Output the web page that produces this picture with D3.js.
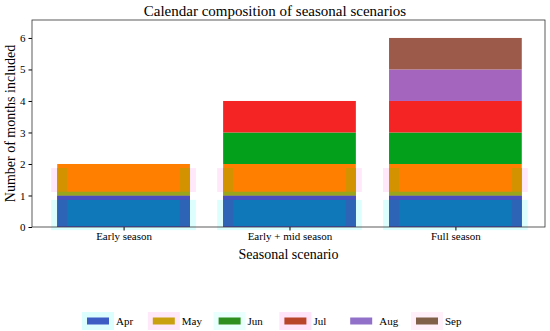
<!DOCTYPE html>
<html>
<head>
<meta charset="utf-8">
<script src="https://cdn.jsdelivr.net/npm/d3@7"></script>
<style>
  body { margin: 0; background: #fff; }
  text { font-family: "Liberation Serif", "DejaVu Serif", serif; fill: #000; }
</style>
</head>
<body>
<script>
"use strict";

// data
const scenarios = ["Early season", "Early + mid season", "Full season"];
const months = ["Apr", "May", "Jun", "Jul", "Aug", "Sep"];
// 1 = month included in the scenario
const apr = [1, 1, 1];
const may = [1, 1, 1];
const jun = [0, 1, 1];
const jul = [0, 1, 1];
const aug = [0, 0, 1];
const sep = [0, 0, 1];
const yTicks = [0, 1, 2, 3, 4, 5, 6];

const barColors = ["#0f78b9", "#ff8000", "#03a01c", "#f42424", "#a465bf", "#9c5a4b"];
const legendColors = ["#3d5cc4", "#c9a010", "#2e8e1e", "#b8442a", "#9070c8", "#806048"];

let w = 550, h = 331;
let margin = {left: 32, right: 5, top: 20, bottom: 104};

let svg = d3.select("body").append("svg")
    .attr("width", w)
    .attr("height", h);

let x = d3.scaleLinear().domain([-0.552, 2.54]).range([margin.left, w - margin.right]);
let y = d3.scaleLinear().domain([0, 6.57]).range([h - margin.bottom, margin.top]);
let barW = 0.8;

// stack the months
let table = scenarios.map(function (s, i) {
    return {scenario: s, i: i, Apr: apr[i], May: may[i], Jun: jun[i], Jul: jul[i], Aug: aug[i], Sep: sep[i]};
});
let series = d3.stack().keys(months)(table);

// soft halos behind the first two segments
let halo = svg.append("g");
table.forEach(function (d) {
    let x0 = x(d.i - barW / 2) - 6, x1 = x(d.i + barW / 2) + 6;
    halo.append("rect").attr("x", x0).attr("width", x1 - x0)
        .attr("y", y(0.86)).attr("height", y(-0.1) - y(0.86))
        .attr("fill", "#dcfffd");
    halo.append("rect").attr("x", x0).attr("width", x1 - x0)
        .attr("y", y(1.87)).attr("height", y(1.11) - y(1.87))
        .attr("fill", "#ffe8fa");
});

// bars
let groups = svg.selectAll("g.layer")
    .data(series)
    .enter()
    .append("g")
    .attr("class", "layer")
    .attr("fill", function (d, i) { return barColors[i]; });

groups.selectAll("rect")
    .data(function (d) { return d.filter(function (p) { return p[1] > p[0]; }); })
    .enter()
    .append("rect")
    .attr("x", function (d) { return x(d.data.i - barW / 2); })
    .attr("width", function (d) { return x(d.data.i + barW / 2) - x(d.data.i - barW / 2); })
    .attr("y", function (d) { return y(d[1]); })
    .attr("height", function (d) { return y(d[0]) - y(d[1]); });

// edge tints on the Apr / May segments
let tint = svg.append("g");
table.forEach(function (d) {
    let x0 = x(d.i - barW / 2), x1 = x(d.i + barW / 2);
    [x0, x1 - 10].forEach(function (sx) {
        tint.append("rect").attr("x", sx).attr("width", 10)
            .attr("y", y(0.86)).attr("height", y(0.02) - y(0.86)).attr("fill", "#2d64b6");
        tint.append("rect").attr("x", sx).attr("width", 10)
            .attr("y", y(1.87)).attr("height", y(1.11) - y(1.87)).attr("fill", "#d39300");
    });
    tint.append("rect").attr("x", x0).attr("width", x1 - x0)
        .attr("y", y(1.0)).attr("height", y(0.86) - y(1.0)).attr("fill", "#4a4fbd");
    tint.append("rect").attr("x", x0).attr("width", x1 - x0)
        .attr("y", y(1.12)).attr("height", y(1.0) - y(1.12)).attr("fill", "#9aa51c");
    tint.append("rect").attr("x", x0).attr("width", x1 - x0)
        .attr("y", y(0.03)).attr("height", y(0) - y(0.03)).attr("fill", "#4a4fbd");
});

// axes
let xAxis = svg.append("g")
    .attr("transform", "translate(0," + y(0) + ")")
    .call(d3.axisBottom(x).tickValues([0, 1, 2])
        .tickFormat(function (d) { return scenarios[d]; })
        .tickSize(3.5).tickPadding(2));
xAxis.select(".domain").remove();
xAxis.selectAll("text").style("font-size", "11px").style("font-family", "Liberation Serif");

let yAxis = svg.append("g")
    .attr("transform", "translate(" + margin.left + ",0)")
    .call(d3.axisLeft(y).tickValues(yTicks).tickFormat(d3.format("d"))
        .tickSize(3.5).tickPadding(3));
yAxis.select(".domain").remove();
yAxis.selectAll("text").style("font-size", "11px").style("font-family", "Liberation Serif");

// frame
svg.append("rect")
    .attr("x", margin.left).attr("y", margin.top)
    .attr("width", w - margin.right - margin.left)
    .attr("height", y(0) - margin.top)
    .attr("fill", "none").attr("stroke", "#333").attr("stroke-width", 0.8);

// titles
svg.append("text")
    .attr("x", w / 2).attr("y", 16)
    .attr("text-anchor", "middle").style("font-size", "15px")
    .text("Calendar composition of seasonal scenarios");

svg.append("text")
    .attr("x", (margin.left + w - margin.right) / 2).attr("y", 259)
    .attr("text-anchor", "middle").style("font-size", "14px")
    .text("Seasonal scenario");

svg.append("text")
    .attr("transform", "translate(15," + (y(0) + margin.top) / 2 + ") rotate(-90)")
    .attr("text-anchor", "middle").style("font-size", "14px")
    .text("Number of months included");

// legend
let haloColors = ["#dcfffd", "#ffe8fa", "#e8fffd", "#ffe4fa", null, "#fff0fa"];
let legend = svg.append("g").attr("transform", "translate(87,0)");
months.forEach(function (m, i) {
    let lx = i * 65.8;
    if (haloColors[i]) {
        legend.append("rect").attr("x", lx - 5).attr("y", 312).attr("width", 32).attr("height", 18)
            .attr("fill", haloColors[i]);
    }
    legend.append("rect").attr("x", lx).attr("y", 317.5).attr("width", 22).attr("height", 7)
        .attr("fill", legendColors[i]);
    legend.append("text").attr("x", lx + 29).attr("y", 325)
        .style("font-size", "11px").text(m);
});
</script>
</body>
</html>
